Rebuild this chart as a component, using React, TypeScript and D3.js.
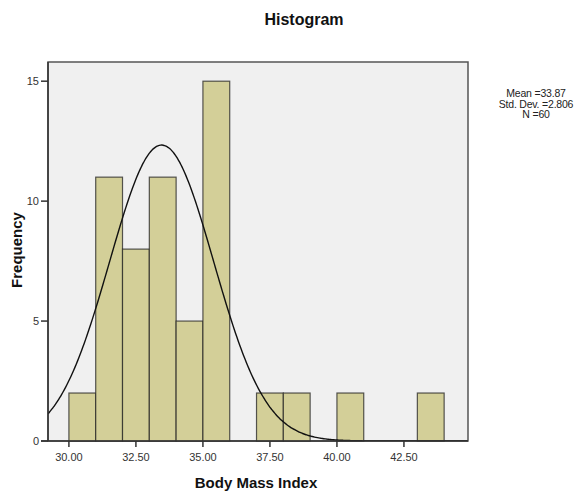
import React from "react";
import * as d3 from "d3";

// histogram bins (Body Mass Index, width 1)
const binStarts = [30, 31, 32, 33, 34, 35, 36, 37, 38, 39, 40, 41, 42, 43];
const counts = [2, 11, 8, 11, 5, 15, 0, 2, 2, 0, 2, 0, 0, 2];
const binWidth = 1;
const xTicks = [30, 32.5, 35, 37.5, 40, 42.5];
const yTicks = [0, 5, 10, 15];
const statLines = ["Mean =33.87", "Std. Dev. =2.806", "N =60"];

// normal curve as drawn in the picture
const curveMean = 33.46;
const curveSd = 1.94;
const curveN = 60;

const W = 580;
const H = 493;
const frame = { left: 48, right: 468, top: 62, bottom: 441 };
const font = "'Liberation Sans', Arial, sans-serif";

const App = () => {
  const x = d3.scaleLinear().domain([29.22, 44.89]).range([frame.left, frame.right]);
  const y = d3.scaleLinear().domain([0, 15.8]).range([frame.bottom, frame.top]);

  const bars = binStarts.map((b, i) => ({ x0: b, x1: b + binWidth, n: counts[i] })).filter(d => d.n > 0);

  const dens = (v: number) =>
    (curveN * binWidth) / (curveSd * Math.sqrt(2 * Math.PI)) *
    Math.exp(-((v - curveMean) ** 2) / (2 * curveSd * curveSd));
  const curvePts = d3.range(x.domain()[0], x.domain()[1], 0.05).map(v => [v, dens(v)]);
  const line = d3.line<number[]>().x(d => x(d[0])).y(d => y(d[1])).curve(d3.curveBasis);

  return (
    <svg width={W} height={H} style={{ position: "absolute", left: 0, top: 0, background: "#fff" }}>
      <defs>
        <clipPath id="plot">
          <rect x={frame.left} y={frame.top} width={frame.right - frame.left} height={frame.bottom - frame.top} />
        </clipPath>
      </defs>
      <text x={304} y={25} textAnchor="middle" fontFamily={font} fontSize={16} fontWeight="bold" fill="#111">
        Histogram
      </text>

      <rect x={frame.left} y={frame.top} width={frame.right - frame.left} height={frame.bottom - frame.top}
        fill="#f0f0f0" stroke="#555" strokeWidth={1.5} />

      {bars.map((d, i) => (
        <rect key={i} x={x(d.x0)} y={y(d.n)} width={x(d.x1) - x(d.x0)} height={y(0) - y(d.n)}
          fill="#d3cf98" stroke="#222" strokeOpacity={0.75} strokeWidth={1.2} />
      ))}

      <path d={line(curvePts) || ""} fill="none" stroke="#111" strokeWidth={1.4} clipPath="url(#plot)" />

      {/* axes */}
      <line x1={frame.left} x2={frame.left} y1={frame.top} y2={frame.bottom} stroke="#333" strokeWidth={1.5} />
      <line x1={frame.left - 7} x2={frame.right} y1={frame.bottom} y2={frame.bottom} stroke="#333" strokeWidth={1.5} />
      {yTicks.map(t => (
        <g key={t}>
          <line x1={frame.left - 7} x2={frame.left} y1={y(t)} y2={y(t)} stroke="#333" strokeWidth={1.5} />
          <text x={frame.left - 9} y={y(t)} dy="0.35em" textAnchor="end" fontFamily={font} fontSize={11} fill="#333">
            {t}
          </text>
        </g>
      ))}
      {xTicks.map(t => (
        <g key={t}>
          <line x1={x(t)} x2={x(t)} y1={frame.bottom} y2={frame.bottom + 6} stroke="#333" strokeWidth={1.5} />
          <text x={x(t)} y={461} textAnchor="middle" fontFamily={font} fontSize={11} fill="#333">
            {d3.format(".2f")(t)}
          </text>
        </g>
      ))}

      <text x={256} y={488} textAnchor="middle" fontFamily={font} fontSize={15}
        fontWeight="bold" fill="#111">
        Body Mass Index
      </text>
      <text transform={`translate(22, 250) rotate(-90)`} textAnchor="middle" fontFamily={font} fontSize={15}
        fontWeight="bold" fill="#111">
        Frequency
      </text>

      {statLines.map((s, i) => (
        <text key={i} x={536} y={97 + i * 10.5} textAnchor="middle" fontFamily={font} fontSize={10.5}
          letterSpacing={-0.2} fill="#222">
          {s}
        </text>
      ))}
    </svg>
  );
};

export default App;
